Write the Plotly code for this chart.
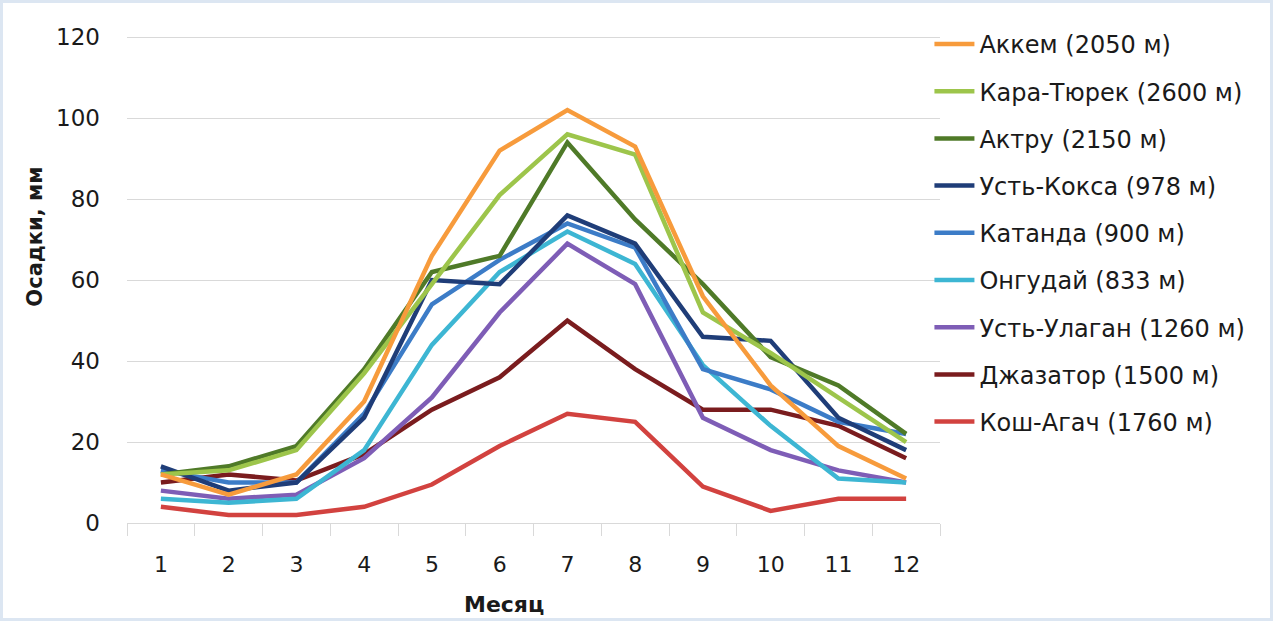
import plotly.graph_objects as go

months = ["1", "2", "3", "4", "5", "6", "7", "8", "9", "10", "11", "12"]

akkem       = [12, 7, 12, 30, 66, 92, 102, 93, 56, 34, 19, 11]
kara_turek  = [12, 13, 18, 37, 59, 81, 96, 91, 52, 42, 31, 20]
aktru       = [12, 14, 19, 38, 62, 66, 94, 75, 59, 41, 34, 22]
ust_koksa   = [14, 8, 10, 26, 60, 59, 76, 69, 46, 45, 26, 18]
katanda     = [13, 10, 10, 27, 54, 65, 74, 68, 38, 33, 25, 22]
ongudai     = [6, 5, 6, 18, 44, 62, 72, 64, 39, 24, 11, 10]
ust_ulagan  = [8, 6, 7, 16, 31, 52, 69, 59, 26, 18, 13, 10]
dzhazator   = [10, 12, 10.5, 17, 28, 36, 50, 38, 28, 28, 24, 16]
kosh_agach  = [4, 2, 2, 4, 9.5, 19, 27, 25, 9, 3, 6, 6]

names = ["Аккем (2050 м)", "Кара-Тюрек (2600 м)", "Актру (2150 м)", "Усть-Кокса (978 м)",
         "Катанда (900 м)", "Онгудай (833 м)", "Усть-Улаган (1260 м)", "Джазатор (1500 м)",
         "Кош-Агач (1760 м)"]
series = [akkem, kara_turek, aktru, ust_koksa, katanda, ongudai, ust_ulagan, dzhazator, kosh_agach]
colors = ["#F79B3C", "#9DC54B", "#4F7A28", "#1F3D78", "#3C7CC7", "#3DB6D3", "#7E5DB6", "#7A1C1E", "#D2423F"]

x_title = "Месяц"
y_title = "Осадки, мм"

FONT = "DejaVu Sans"
TXT = "#1a1a1a"

fig = go.Figure()
for i in reversed(range(len(series))):
    fig.add_trace(go.Scatter(
        x=months, y=series[i], name=names[i], mode="lines",
        line=dict(color=colors[i], width=4.5),
        legendgroup=str(i), legendrank=i + 1,
    ))

fig.update_layout(
    width=1273, height=621,
    margin=dict(l=127, r=333, t=36, b=98, autoexpand=False),
    plot_bgcolor="white", paper_bgcolor="white",
    font=dict(family=FONT, size=23, color=TXT),
    showlegend=True,
    legend=dict(
        x=0.987, y=1.029, xanchor="left", yanchor="top",
        font=dict(family=FONT, size=24, color=TXT),
        tracegroupgap=13, itemwidth=40,
        bgcolor="rgba(0,0,0,0)",
    ),
    xaxis=dict(
        type="category", showgrid=False, tickson="boundaries", automargin=False,
        range=[-0.5, 11.5],
        ticks="outside", ticklen=12, tickcolor="#D9D9D9", tickwidth=1,
        showline=True, linecolor="#D9D9D9", linewidth=1,
        tickfont=dict(size=22), ticklabelstandoff=22,
    ),
    yaxis=dict(
        range=[0, 120.3], tickvals=[0, 20, 40, 60, 80, 100, 120], automargin=False,
        showgrid=True, gridcolor="#D9D9D9", gridwidth=1,
        zeroline=False, showline=False, ticks="",
        tickfont=dict(size=23), ticklabelstandoff=26,
    ),
    annotations=[
        dict(text="<b>" + x_title + "</b>", xref="paper", yref="paper",
             x=0.464, y=-81 / 487, xanchor="center", yanchor="middle",
             showarrow=False, font=dict(size=22, color=TXT)),
        dict(text="<b>" + y_title + "</b>", xref="paper", yref="paper",
             x=-92 / 813, y=0.588, xanchor="center", yanchor="middle", textangle=-90,
             showarrow=False, font=dict(size=21, color=TXT)),
    ],
    shapes=[dict(type="rect", xref="paper", yref="paper",
                 x0=-127 / 813, x1=1 + 333 / 813, y0=-98 / 487, y1=1 + 36 / 487,
                 line=dict(color="#DCE6F2", width=6), fillcolor="rgba(0,0,0,0)", layer="below")],
)
try:
    fig.update_layout(legend_maxheight=600)
except Exception:
    pass

fig.write_html("out.html", config={"displayModeBar": False},
               post_script="document.body.style.margin='0';document.body.style.overflow='hidden';")
